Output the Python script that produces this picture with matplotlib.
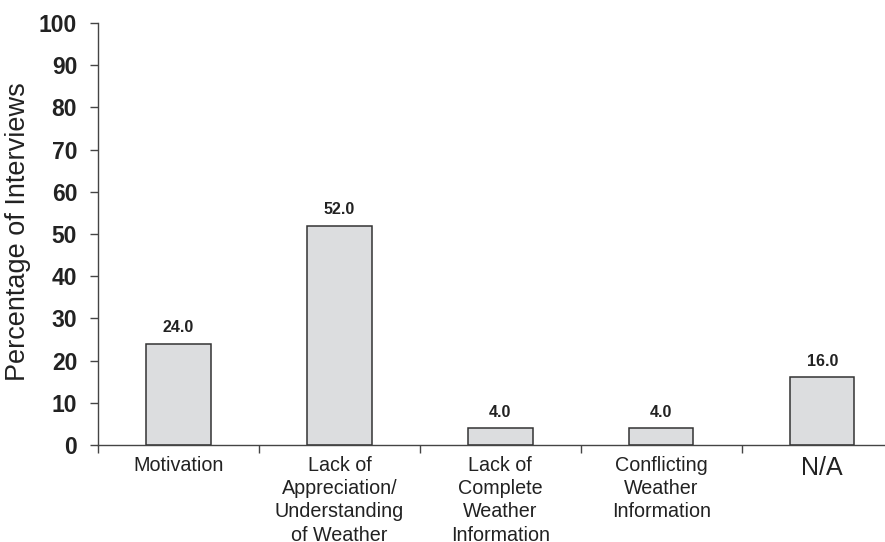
import numpy as np
import matplotlib
matplotlib.use("Agg")
from matplotlib import pyplot as plt

# Chart data
categories = ["Motivation",
              "Lack of\nAppreciation/\nUnderstanding\nof Weather",
              "Lack of\nComplete\nWeather\nInformation",
              "Conflicting\nWeather\nInformation",
              "N/A"]
values = [24.0, 52.0, 4.0, 4.0, 16.0]
y_ticks = [0, 10, 20, 30, 40, 50, 60, 70, 80, 90, 100]

plt.rcParams['font.family'] = ['Liberation Sans', 'DejaVu Sans']

fig = plt.figure(figsize=(8.85, 5.42), dpi=100)
ax = fig.add_axes([0.1107, 0.179, 0.8893, 0.7786])

x = np.arange(len(categories))
bars = ax.bar(x, values, width=0.4, color="#dcdddf", edgecolor="#333333", linewidth=1.1)

# Value labels above the bars
for b, v in zip(bars, values):
    ax.annotate(f"{v:.1f}", (b.get_x() + b.get_width() / 2, v),
                xytext=(0, 6), textcoords="offset points",
                ha="center", va="bottom", fontsize=11.5, fontweight="bold", color="#222222")

ax.set_xlim(-0.5, 4.39)
ax.set_ylim(0, 100)

# Ticks between categories, labels at bar centres
ax.set_xticks(np.arange(-0.5, 4.0, 1.0))
ax.set_xticklabels([])
ax.tick_params(axis="x", which="major", direction="out", length=6, width=1, color="#444444")
ax.set_xticks(x, minor=True)
ax.set_xticklabels(categories, minor=True, fontsize=14.2, linespacing=1.28, color="#222222")
ax.tick_params(axis="x", which="minor", length=0, pad=8)
ax.get_xticklabels(minor=True)[-1].set_fontsize(18)

ax.set_yticks(y_ticks)
ax.set_yticklabels([str(t) for t in y_ticks], fontsize=16.5, fontweight="bold", color="#222222")
ax.tick_params(axis="y", direction="out", length=6, width=1, color="#444444", pad=9)

for side in ["top", "right"]:
    ax.spines[side].set_visible(False)
for side in ["left", "bottom"]:
    ax.spines[side].set_color("#444444")
    ax.spines[side].set_linewidth(1)

ax.set_ylabel("Percentage of Interviews", fontsize=19.5, color="#222222")
ax.yaxis.set_label_coords(-0.085, 0.505)

fig.savefig("out.png", dpi=100)
